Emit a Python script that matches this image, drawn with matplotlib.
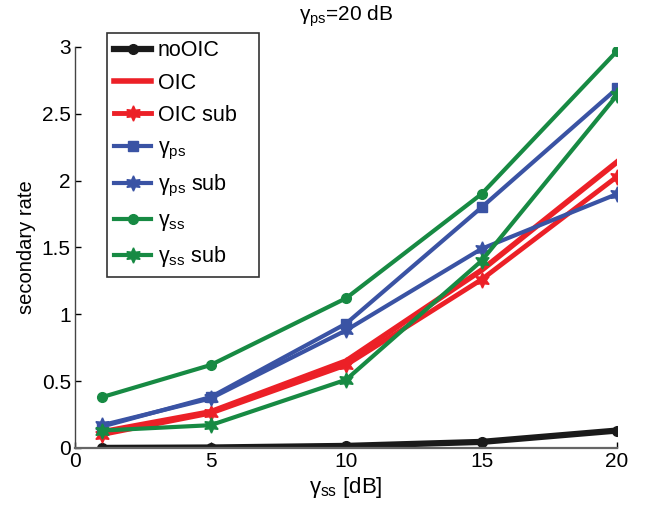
import matplotlib
matplotlib.use("Agg")
import matplotlib.pyplot as plt

x = [1, 5, 10, 15, 20]
no_oic = [0.0, 0.003, 0.015, 0.045, 0.13]
oic = [0.12, 0.27, 0.65, 1.33, 2.14]
oic_sub = [0.10, 0.26, 0.62, 1.26, 2.03]
g_ps = [0.16, 0.38, 0.93, 1.80, 2.69]
g_ps_sub = [0.17, 0.37, 0.88, 1.49, 1.90]
g_ss = [0.38, 0.62, 1.12, 1.90, 2.97]
g_ss_sub = [0.13, 0.17, 0.51, 1.40, 2.64]

labels = ['noOIC', 'OIC', 'OIC sub', r'$\gamma_{\mathrm{ps}}$', r'$\gamma_{\mathrm{ps}}$ sub',
          r'$\gamma_{\mathrm{ss}}$', r'$\gamma_{\mathrm{ss}}$ sub']

plt.rcParams['font.family'] = ['Liberation Sans', 'DejaVu Sans']
plt.rcParams['mathtext.fontset'] = 'custom'
plt.rcParams['mathtext.rm'] = 'Liberation Sans'
plt.rcParams['mathtext.it'] = 'Liberation Sans'
plt.rcParams['mathtext.bf'] = 'Liberation Sans:bold'
plt.rcParams['mathtext.sf'] = 'Liberation Sans'

fig = plt.figure(figsize=(6.6, 5.09), dpi=100)
ax = fig.add_axes([0.1136, 0.12, 0.935 - 0.1136, 0.9077 - 0.12])

black = '#1a1a1a'
red = '#ec2027'
blue = '#3a53a4'
green = '#178a43'
hexa = (6, 1, 0)

ax.plot(x, no_oic, color=black, lw=4.5, marker='o', ms=7, label=labels[0])
ax.plot(x, oic, color=red, lw=4, label=labels[1])
ax.plot(x, oic_sub, color=red, lw=3.5, marker=hexa, ms=11, label=labels[2])
ax.plot(x, g_ps, color=blue, lw=3, marker='s', ms=7, label=labels[3])
ax.plot(x, g_ps_sub, color=blue, lw=3, marker=hexa, ms=11, label=labels[4])
ax.plot(x, g_ss, color=green, lw=3, marker='o', ms=7, label=labels[5])
ax.plot(x, g_ss_sub, color=green, lw=3, marker=hexa, ms=11, label=labels[6])

ax.set_xlim(0, 20)
ax.set_ylim(0, 3)
ax.set_xticks([0, 5, 10, 15, 20])
ax.set_yticks([0, 0.5, 1, 1.5, 2, 2.5, 3])
ax.set_yticklabels(['0', '0.5', '1', '1.5', '2', '2.5', '3'])
ax.tick_params(direction='in', labelsize=15, length=4, width=1, pad=3)
ax.spines['top'].set_visible(False)
ax.spines['right'].set_visible(False)
ax.spines['left'].set_color('#444444')
ax.spines['bottom'].set_color('#666666')
ax.spines['left'].set_linewidth(1.0)
ax.spines['bottom'].set_linewidth(1.6)

ax.set_xlabel(r'$\gamma_{\mathrm{ss}}$ [dB]', fontsize=16, labelpad=3)
ax.set_ylabel('secondary rate', fontsize=14.5, labelpad=4)
ax.set_title(r'$\gamma_{\mathrm{ps}}$=20 dB', fontsize=15, pad=19)

leg = ax.legend(loc='upper left', bbox_to_anchor=(0.059, 1.035, 0.2804, 0), mode='expand',
                fontsize=15.5, frameon=True, fancybox=False, edgecolor='black',
                handlelength=1.7, handletextpad=0.3, borderpad=0.35, labelspacing=0.52,
                borderaxespad=0)
leg.get_frame().set_linewidth(1.2)

fig.savefig('out.png', dpi=100)
